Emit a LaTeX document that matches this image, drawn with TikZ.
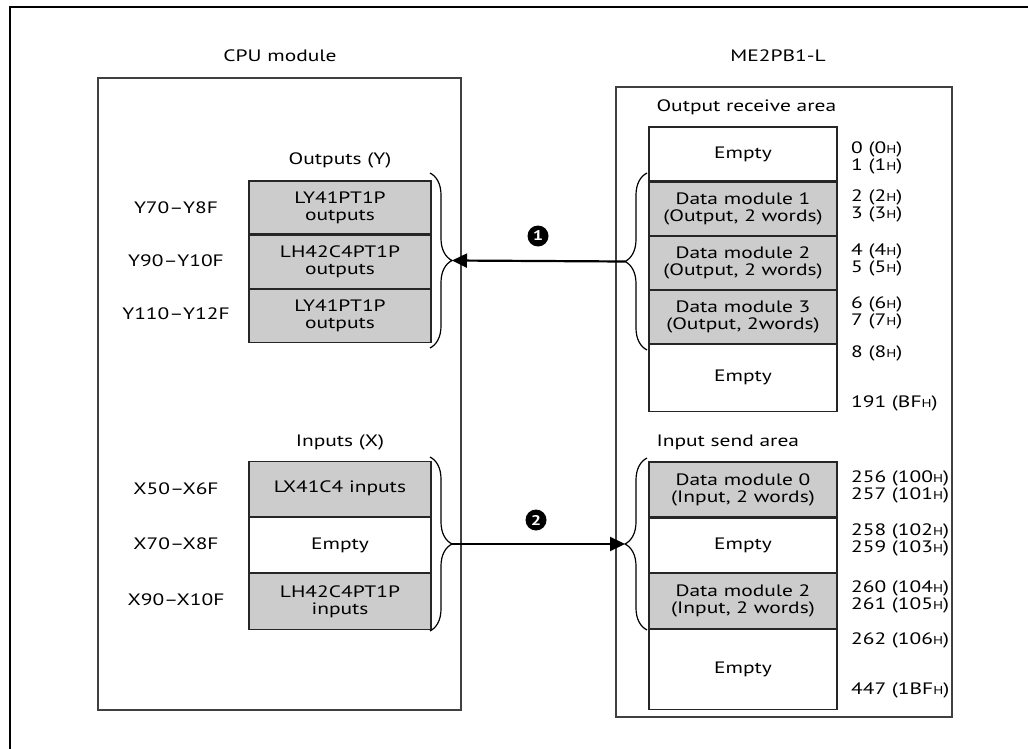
\documentclass[tikz,border=0pt]{standalone}
\usepackage{fontspec}
\setmainfont{PT Sans}[FakeStretch=1.3]
\usetikzlibrary{arrows.meta,positioning,decorations.pathreplacing}
\newcommand{\hsub}{{\fontsize{11.5}{11.5}\selectfont H}}
\tikzset{
  cell/.style={draw=black!85, line width=1.1pt, inner sep=0pt, align=center},
  used/.style={cell, fill=black!20},
  modbox/.style={draw=black!75, line width=1.4pt},
  addr/.style={anchor=west, align=left, inner sep=0pt},
  numdot/.style={circle, fill=black, text=white, inner sep=0pt, minimum size=21pt, font=\fontsize{14}{14}\selectfont\bfseries},
  curly/.style={decorate, decoration={brace, amplitude=22pt}, line width=1.2pt},
  flow/.style={line width=2.2pt, -{Triangle[length=15pt,width=14pt]}}
}
\begin{document}
\begin{tikzpicture}[x=1pt, y=-1pt, font=\fontsize{16.5}{17}\selectfont]
\useasboundingbox (0,0) rectangle (1028,749);
% frame
\draw[line width=2.6pt] (10,749) -- (10,7) -- (1028,7);
% modules
\draw[modbox] (98,78) rectangle (461,710);
\draw[modbox] (616,87) rectangle (952,717);
\node (cputitle) at (280,56) {CPU module};
\node (metitle) at (778,56) {ME2PB1-L};

% CPU outputs
\node (ytitle) at (340,160) {Outputs (Y)};
\node[used, minimum width=182pt, minimum height=53pt] (yo1) at (340,207.5) {LY41PT1P\\outputs};
\node[used, minimum width=182pt, minimum height=53pt, below=0pt of yo1] (yo2) {LH42C4PT1P\\outputs};
\node[used, minimum width=182pt, minimum height=53pt, below=0pt of yo2] (yo3) {LY41PT1P\\outputs};
\node (ya1) at (176,207.5) {Y70--Y8F};
\node (ya2) at (176,260.5) {Y90--Y10F};
\node (ya3) at (176,313.5) {Y110--Y12F};

% CPU inputs
\node (xtitle) at (340,442) {Inputs (X)};
\node[used, minimum width=182pt, minimum height=55.3pt] (xi1) at (340,488.7) {LX41C4 inputs};
\node[cell, minimum width=182pt, minimum height=55.3pt, below=0pt of xi1] (xi2) {Empty};
\node[used, minimum width=182pt, minimum height=55.3pt, below=0pt of xi2] (xi3) {LH42C4PT1P\\inputs};
\node (xa1) at (176,488.7) {X50--X6F};
\node (xa2) at (176,544) {X70--X8F};
\node (xa3) at (176,599.3) {X90--X10F};

% output receive area
\node[anchor=west] (rtitle) at (653,107) {Output receive area};
\node[cell, minimum width=188pt, minimum height=54pt] (ro0) at (743,154) {Empty};
\node[used, minimum width=188pt, minimum height=53pt, below=0pt of ro0] (ro1) {Data module 1\\(Output, 2 words)};
\node[used, minimum width=188pt, minimum height=53pt, below=0pt of ro1] (ro2) {Data module 2\\(Output, 2 words)};
\node[used, minimum width=188pt, minimum height=53pt, below=0pt of ro2] (ro3) {Data module 3\\(Output, 2words)};
\node[cell, minimum width=188pt, minimum height=67pt, below=0pt of ro3] (ro4) {Empty};
\node[addr] (ra0) at (851,157.5) {0 (0\hsub)\\1 (1\hsub)};
\node[addr] (ra1) at (851,205.5) {2 (2\hsub)\\3 (3\hsub)};
\node[addr] (ra2) at (851,259.5) {4 (4\hsub)\\5 (5\hsub)};
\node[addr] (ra3) at (851,312.5) {6 (6\hsub)\\7 (7\hsub)};
\node[addr] (ra4) at (851,353) {8 (8\hsub)};
\node[addr] (ra5) at (851,403) {191 (BF\hsub)};

% input send area
\node[anchor=west] (stitle) at (653,442) {Input send area};
\node[used, minimum width=188pt, minimum height=55pt] (si0) at (743,489.5) {Data module 0\\(Input, 2 words)};
\node[cell, minimum width=188pt, minimum height=54pt, below=0pt of si0] (si1) {Empty};
\node[used, minimum width=188pt, minimum height=55pt, below=0pt of si1] (si2) {Data module 2\\(Input, 2 words)};
\node[cell, minimum width=188pt, minimum height=80pt, below=0pt of si2] (si3) {Empty};
\node[addr] (sa0) at (851,486.5) {256 (100\hsub)\\257 (101\hsub)};
\node[addr] (sa1) at (851,540) {258 (102\hsub)\\259 (103\hsub)};
\node[addr] (sa2) at (851,596.5) {260 (104\hsub)\\261 (105\hsub)};
\node[addr] (sa3) at (851,640) {262 (106\hsub)};
\node[addr] (sa4) at (851,690) {447 (1BF\hsub)};

% braces
\draw[curly] (430,173) -- (430,348);
\draw[curly] (430,457) -- (430,631);
\draw[curly] (647,350) -- (647,173);
\draw[curly] (647,630) -- (647,458);
\coordinate (ltip1) at (452,260.5);
\coordinate (ltip2) at (452,544);
\coordinate (rtip1) at (625,261.5);
\coordinate (rtip2) at (625,544);

% transfers
\draw[flow] (rtip1) -- (ltip1);
\draw[flow] (ltip2) -- (rtip2);
\node[numdot] (n1) at (538,236) {1};
\node[numdot] (n2) at (536,520) {2};
\end{tikzpicture}
\end{document}
